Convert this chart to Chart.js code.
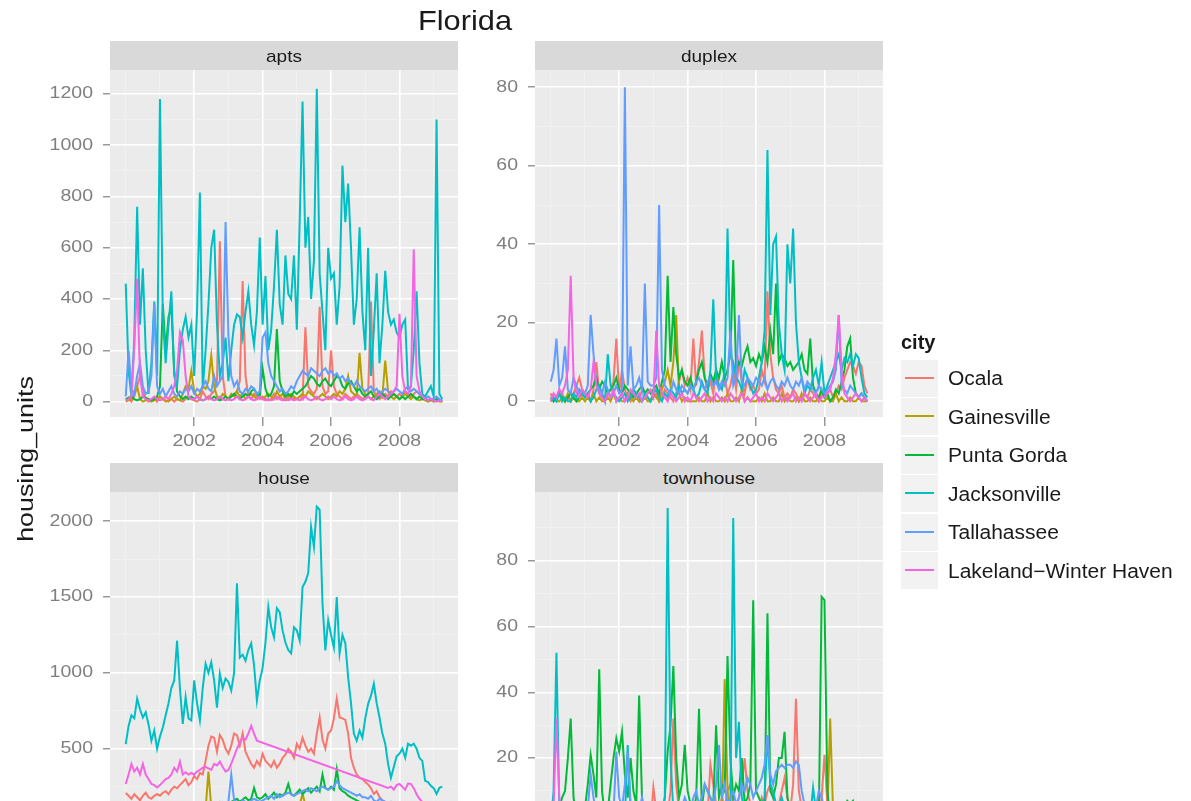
<!DOCTYPE html>
<html>
<head>
<meta charset="utf-8">
<title>Florida</title>
<script src="https://cdn.jsdelivr.net/npm/chart.js@4.4.1/dist/chart.umd.min.js"></script>
<style>
  html, body { margin: 0; padding: 0; background: #fff; overflow: hidden; }
  #fig { position: relative; width: 1191px; height: 801px; overflow: hidden;
         font-family: "Liberation Sans", Arial, sans-serif; color: #1a1a1a; filter: blur(0.6px); }
  #fig canvas { position: absolute; }
  .strip { position: absolute; width: 348px; height: 29px; background: #D9D9D9; }
  .txt { position: absolute; white-space: nowrap; line-height: 1; }
  .key { position: absolute; left: 901px; width: 37px; height: 37px; background: #F2F2F2; }
  .key i { position: absolute; left: 4px; right: 4px; top: 17px; height: 2px; }
</style>
</head>
<body>
<div id="fig"></div>
<script>
// ---- data (monthly, Jan 2000 .. Apr 2009) ----
const cities = ['Ocala', 'Gainesville', 'Punta Gorda', 'Jacksonville', 'Tallahassee', 'Lakeland\u2212Winter Haven'];
const cityColors = ['#F8766D', '#B79F00', '#00BA38', '#00BFC4', '#619CFF', '#F564E3'];
const startYear = 2000;
const monthCount = 112;
const yearTicks = [2000, 2001, 2002, 2003, 2004, 2005, 2006, 2007, 2008, 2009];
const yearLabels = [2002, 2004, 2006, 2008];

const aptsTicks = [0, 200, 400, 600, 800, 1000, 1200];
const aptsMinor = [100, 300, 500, 700, 900, 1100];
const duplexTicks = [0, 20, 40, 60, 80];
const duplexMinor = [10, 30, 50, 70];
const houseTicks = [0, 500, 1000, 1500, 2000];
const houseMinor = [250, 750, 1250, 1750];
const townhouseTicks = [0, 20, 40, 60, 80];
const townhouseMinor = [10, 30, 50, 70, 90];

// apts
const aptsOcala = [
  5,10,0,20,60,100,40,10,0,5,10,0,
  20,10,0,5,10,0,10,5,0,10,20,10,
  5,0,10,40,20,10,30,40,80,625,100,20,
  10,20,30,40,80,470,100,20,10,30,20,10,
  20,10,5,10,30,10,20,10,5,10,20,10,
  10,20,10,290,60,40,30,50,370,60,30,40,
  200,60,30,20,10,30,20,10,20,30,20,10,
  20,30,390,40,20,10,20,30,20,40,30,20,
  30,20,40,30,20,30,40,30,20,10,20,10,
  10,5,5,0];
const aptsGainesville = [
  0,5,10,30,60,10,0,5,10,0,5,10,
  20,10,5,0,10,20,10,5,30,60,50,120,
  40,20,30,60,50,80,180,60,20,10,30,20,
  10,30,20,40,20,30,10,20,30,20,10,20,
  10,20,30,20,10,40,20,30,10,20,30,20,
  10,20,30,20,40,30,20,10,20,30,20,10,
  20,30,20,40,30,50,100,40,30,20,190,50,
  30,20,10,20,30,40,20,160,40,20,10,20,
  10,20,30,20,10,20,10,5,10,5,0,5,
  0,5,0,0];
const aptsPuntaGorda = [
  10,15,20,10,5,10,20,15,10,5,10,20,
  60,380,200,330,370,120,40,20,10,20,10,20,
  10,20,10,5,10,20,10,20,10,5,10,20,
  10,20,30,20,10,20,30,20,40,50,30,20,
  130,50,20,30,60,283,80,40,20,30,20,40,
  30,40,50,60,80,100,90,70,60,80,90,70,
  60,80,100,90,60,50,70,80,60,40,50,30,
  20,30,40,20,10,20,30,20,10,20,30,20,
  10,20,10,20,30,20,10,20,10,10,5,10,
  5,10,5,0];
const aptsJacksonville = [
  460,120,20,250,760,300,520,200,30,150,390,100,
  1180,330,150,300,430,100,60,200,280,330,250,300,
  100,350,815,50,200,380,600,670,300,100,150,250,
  80,200,300,340,330,250,350,430,300,220,350,640,
  300,490,200,280,450,670,380,300,570,420,400,570,
  280,700,1170,600,720,400,550,1220,500,350,200,600,
  480,500,300,450,920,700,850,600,300,400,680,350,
  200,600,100,280,500,150,300,510,350,300,320,270,
  250,300,320,50,60,200,430,150,30,20,40,60,
  20,1100,30,10];
const aptsTallahassee = [
  20,200,50,30,100,150,60,30,40,100,380,60,
  30,50,20,40,60,30,20,40,30,50,40,60,
  30,50,40,60,80,50,40,100,60,80,100,700,
  260,100,60,80,40,30,50,40,60,50,30,40,
  250,270,150,100,80,60,40,50,30,40,60,50,
  80,100,120,110,100,130,120,110,100,120,130,110,
  120,100,110,90,100,80,90,70,60,80,60,50,
  40,50,60,40,50,30,40,50,40,30,40,50,
  40,30,50,60,40,50,40,30,20,10,20,10,
  10,20,10,5];
const aptsLakeland = [
  5,10,20,210,480,100,20,10,5,10,20,10,
  5,10,20,10,30,60,120,270,240,100,20,10,
  10,20,10,5,10,20,10,5,10,20,10,5,
  10,5,10,20,10,5,10,20,10,5,10,20,
  10,5,10,5,10,20,10,5,10,5,10,5,
  10,5,10,20,10,5,10,20,10,5,10,20,
  10,20,10,5,10,20,10,5,10,20,10,5,
  10,20,10,5,20,30,20,10,20,30,40,60,
  342,100,40,30,60,594,100,40,20,10,5,10,
  5,0,5,0];

// duplex
const duplexOcala = [
  2,0,1,3,2,0,1,0,2,4,6,3,
  2,1,0,3,10,2,1,0,2,3,5,16,
  2,8,3,1,0,2,1,0,3,2,1,0,
  1,2,0,1,3,2,1,0,2,5,8,4,
  6,3,16,4,10,18,6,3,5,2,8,4,
  3,6,2,4,8,3,10,5,2,6,3,4,
  2,3,8,5,28,12,6,3,2,4,1,2,
  1,3,2,0,1,2,1,3,2,1,0,2,
  1,2,3,1,2,4,3,6,8,10,9,7,
  10,9,4,2];
const duplexGainesville = [
  0,1,0,0,1,0,2,0,1,0,0,1,
  0,1,0,2,0,1,0,0,1,0,2,0,
  1,0,0,2,1,0,1,0,0,1,0,0,
  2,1,0,3,5,8,4,10,22,2,0,1,
  0,0,0,0,1,0,0,2,0,1,0,0,
  1,0,2,0,0,1,0,3,0,1,0,0,
  0,1,0,2,0,0,1,0,0,2,0,1,
  0,0,1,0,2,0,0,1,0,0,1,0,
  0,1,0,0,2,0,1,0,0,1,0,0,
  1,0,0,0];
const duplexPuntaGorda = [
  1,0,1,2,1,0,1,2,1,0,1,2,
  1,2,3,4,6,3,5,4,2,3,4,6,
  3,2,4,3,2,1,2,3,4,2,3,2,
  3,4,2,5,8,32,10,24,12,6,8,5,
  4,6,3,5,8,10,6,4,7,5,8,6,
  10,6,8,12,36,8,10,9,12,14,10,11,
  9,12,10,14,10,18,12,30,10,12,11,9,
  10,8,9,10,12,8,7,16,4,2,1,3,
  1,2,0,1,3,2,5,8,14,16,6,2,
  1,2,1,0];
const duplexJacksonville = [
  0,1,0,2,0,1,0,0,2,1,3,2,
  1,2,0,1,3,4,2,0,12,4,2,1,
  0,1,2,0,1,3,2,1,0,2,1,0,
  2,3,1,0,2,1,3,2,1,4,2,3,
  2,4,3,1,2,5,3,2,8,26,6,4,
  3,8,44,12,10,6,5,3,8,6,4,2,
  3,6,10,18,64,22,40,42,20,12,8,40,
  30,44,20,10,6,2,4,3,6,8,4,10,
  2,4,6,8,10,12,8,11,10,12,9,12,
  11,6,2,1];
const duplexTallahassee = [
  5,8,16,4,6,14,3,2,6,4,2,3,
  2,4,22,12,4,3,2,5,3,1,2,4,
  2,3,80,4,14,3,4,6,3,30,5,4,
  4,6,50,8,4,3,2,5,3,2,4,3,
  2,4,3,5,6,4,3,5,6,4,5,3,
  5,4,6,18,4,6,22,5,4,6,5,4,
  6,5,4,6,3,5,6,4,3,5,4,6,
  4,3,5,4,6,3,5,4,3,2,4,3,
  2,3,4,5,8,22,4,3,2,4,3,2,
  1,2,1,0];
const duplexLakeland = [
  0,2,1,3,2,4,8,32,6,2,1,3,
  2,1,3,10,4,2,1,0,2,1,3,0,
  1,2,0,1,3,2,1,2,0,1,2,3,
  1,18,4,2,1,0,2,1,0,1,2,0,
  1,0,2,1,0,1,2,0,1,0,2,1,
  0,1,0,2,1,0,1,2,0,1,0,1,
  2,0,1,0,2,1,0,1,2,0,1,0,
  1,2,0,1,0,2,1,0,1,2,0,1,
  1,2,3,6,12,22,8,2,1,0,1,2,
  1,0,1,0];

// house (Lakeland has no reports from late 2003 to mid 2007)
const houseOcala = [
  208,190,170,200,180,160,190,210,180,170,190,200,
  190,210,220,200,230,250,240,260,280,300,260,280,
  320,300,340,330,420,520,580,573,480,590,560,500,
  467,520,600,590,520,600,480,440,400,375,420,390,
  467,420,400,380,420,375,400,440,460,500,480,440,
  533,500,573,520,480,500,467,600,706,560,500,600,
  620,700,830,706,700,690,600,440,375,330,308,300,
  280,265,240,202,220,180,160,150,130,140,120,110,
  100,110,90,80,100,90,80,70,60,70,60,50,
  60,50,40,50];
const houseGainesville = [
  60,70,65,75,70,80,75,70,80,85,75,80,
  80,85,90,80,95,90,85,95,90,100,95,90,
  95,100,90,105,100,350,110,100,105,95,100,110,
  100,110,105,115,110,120,110,115,105,110,120,115,
  110,120,115,125,120,130,125,120,130,125,120,130,
  125,130,202,130,125,120,130,125,120,115,110,105,
  110,105,100,95,100,90,85,90,80,85,75,80,
  70,75,65,60,55,60,50,55,45,50,40,45,
  40,35,40,30,35,30,25,30,25,20,25,20,
  20,15,20,15];
const housePuntaGorda = [
  80,90,100,85,95,110,100,90,105,95,100,110,
  100,110,120,105,115,130,120,110,125,130,120,115,
  120,130,140,125,135,150,140,130,145,150,140,135,
  140,150,160,170,150,165,180,160,170,242,180,170,
  180,200,170,190,210,180,200,190,210,268,200,190,
  210,230,200,220,240,210,230,250,220,330,240,230,
  250,230,365,240,220,210,190,180,170,160,150,140,
  130,125,120,115,110,105,100,95,90,80,85,75,
  70,65,60,55,50,60,50,45,40,45,40,35,
  30,35,30,25];
const houseJacksonville = [
  530,650,720,700,830,760,706,740,660,553,620,500,
  580,640,720,800,900,950,1212,900,664,840,700,687,
  950,800,687,900,1060,1000,1070,950,770,995,900,962,
  940,883,1000,1590,1100,1120,1080,1150,1195,1050,817,950,
  1033,1200,1433,1300,1235,1426,1400,1280,1200,1150,1128,1300,
  1280,1213,1565,1600,1657,1962,1830,2095,2075,1460,1148,1347,
  1250,1168,1500,1128,1250,1195,970,800,600,553,620,573,
  700,796,850,928,800,706,600,533,400,308,380,450,
  467,500,440,533,520,533,500,440,420,288,280,255,
  240,202,242,250];
const houseTallahassee = [
  120,110,130,100,115,125,110,120,105,115,110,100,
  110,120,115,125,130,120,110,125,115,120,130,125,
  130,120,140,125,135,130,150,140,130,145,150,140,
  150,330,160,150,140,160,150,140,160,170,160,150,
  160,170,180,190,170,200,180,190,200,210,200,190,
  200,210,220,230,220,240,230,220,240,250,240,230,
  240,250,288,260,240,230,220,210,200,190,200,180,
  180,170,190,160,150,170,160,150,140,150,130,120,
  110,120,100,90,100,80,90,70,80,60,70,60,
  50,60,50,40];
const houseLakeland = [
  268,330,400,350,375,330,400,330,300,268,260,245,
  260,280,300,308,330,375,350,415,330,345,330,340,
  330,350,360,375,380,370,360,400,390,415,380,350,
  360,400,450,500,540,573,560,600,650,600,553,null,
  null,null,null,null,null,null,null,null,null,null,null,null,
  null,null,null,null,null,null,null,null,null,null,null,null,
  null,null,null,null,null,null,null,null,null,null,null,null,
  null,null,null,null,null,null,null,null,242,250,230,260,
  268,250,230,270,268,240,200,170,150,130,120,110,
  100,90,80,70];

// townhouse
const townhouseOcala = [
  0,1,0,2,0,1,0,0,1,0,0,1,
  0,0,1,0,2,0,0,1,0,0,1,0,
  1,0,0,1,0,2,0,1,0,0,1,0,
  11,4,2,0,1,3,10,32,12,4,2,1,
  0,2,1,3,2,5,4,3,18,12,6,4,
  8,5,10,12,6,4,8,12,20,10,6,5,
  4,3,8,6,10,12,8,4,6,10,14,8,
  4,12,38,10,5,3,2,1,3,2,1,8,
  21,6,2,1,0,1,0,0,1,0,0,0,
  0,0,0,0];
const townhouseGainesville = [
  0,0,1,0,0,0,1,0,0,0,0,1,
  0,0,0,1,0,0,0,0,1,0,0,0,
  0,1,0,0,0,0,0,1,0,0,0,0,
  0,0,1,0,0,2,0,0,1,0,0,0,
  1,0,0,2,0,1,0,0,3,0,1,0,
  0,44,10,2,0,1,0,2,0,1,0,0,
  0,1,0,0,2,0,1,0,0,1,0,0,
  0,0,1,0,0,0,1,0,0,0,0,1,
  0,2,32,4,0,1,0,0,0,0,0,0,
  0,0,0,0];
const townhousePuntaGorda = [
  2,0,3,5,8,10,20,32,8,2,0,1,
  5,12,21,15,8,47,10,2,4,12,20,26,
  22,28,15,8,20,10,6,39,8,2,0,1,
  0,2,1,3,8,22,30,48,20,8,12,24,
  10,6,4,8,35,5,12,10,8,6,30,8,
  12,10,51,20,8,12,10,20,6,8,12,68,
  10,8,6,4,64,10,8,12,20,20,28,8,
  4,6,3,2,5,1,3,2,4,2,1,69,
  68,10,2,1,0,2,1,5,7,6,7,4,
  2,1,0,0];
const townhouseJacksonville = [
  0,10,52,5,0,2,0,1,0,3,0,1,
  0,2,1,0,3,0,1,2,0,1,0,2,
  1,0,2,24,4,0,1,2,0,1,3,0,
  1,2,0,3,8,96,20,4,2,1,0,3,
  2,1,3,0,2,4,1,3,2,5,3,2,
  4,2,3,6,93,20,31,8,4,3,2,5,
  3,4,6,8,27,12,10,6,4,8,5,3,
  2,4,3,6,2,1,3,2,11,4,2,1,
  0,1,2,0,1,0,1,0,0,1,0,0,
  0,0,0,0];
const townhouseTallahassee = [
  0,2,1,3,0,2,1,0,4,2,1,3,
  2,5,15,8,3,2,1,4,2,6,3,22,
  8,5,12,22,6,3,2,4,8,2,1,3,
  2,1,4,2,3,5,6,4,2,3,5,8,
  6,4,8,10,6,8,12,10,8,6,12,24,
  8,12,6,8,10,6,8,12,10,14,12,8,
  10,12,14,18,27,15,12,16,17,18,17,18,
  18,17,19,18,10,6,4,2,3,5,10,8,
  4,2,1,3,2,1,0,1,2,0,1,0,
  0,0,0,0];
const townhouseLakeland = [
  0,5,32,8,0,1,0,0,1,0,0,0,
  0,1,0,0,2,0,0,1,0,0,0,1,
  0,0,1,0,0,0,1,0,0,0,1,0,
  0,1,0,0,0,1,0,0,0,1,0,0,
  1,0,0,0,1,0,0,0,1,0,0,0,
  0,0,1,0,0,0,1,0,0,0,1,0,
  0,1,0,0,0,1,0,0,0,1,0,0,
  1,0,0,0,1,0,0,0,1,0,0,0,
  0,0,1,0,0,0,1,0,0,0,1,0,
  0,0,0,0];

const months = Array.from({ length: monthCount }, (_, i) => startYear + i / 12);

// ---- layout ----
const fig = document.getElementById('fig');
const PW = 348, PH = 347;
const XMIN = 1999.54, XMAX = 2009.71;

function addText(txt, x, y, size, opts = {}) {
  const d = document.createElement('div');
  d.className = 'txt';
  d.textContent = txt;
  d.style.left = x + 'px';
  d.style.top = y + 'px';
  d.style.fontSize = size + 'px';
  if (opts.bold) d.style.fontWeight = 'bold';
  const sx = opts.sx || 1;
  const ax = opts.align === 'left' ? '0' : '-50%';
  d.style.transformOrigin = opts.align === 'left' ? 'left center' : 'center center';
  d.style.transform = `translate(${ax}, -50%) ${opts.rot ? 'rotate(' + opts.rot + 'deg) ' : ''}scaleX(${sx})`;
  fig.appendChild(d);
  return d;
}

addText('Florida', 465, 21, 28, { sx: 1.1 });
addText('housing_units', 26, 459, 22, { rot: -90, sx: 1.22 });

// legend
addText('city', 901, 342, 20, { bold: true, align: 'left' });
const keyCenters = [378, 416.5, 455, 493.5, 532, 570.5];
cities.forEach((c, i) => {
  const k = document.createElement('div');
  k.className = 'key';
  k.style.top = (keyCenters[i] - 18.5) + 'px';
  const ln = document.createElement('i');
  ln.style.background = cityColors[i];
  k.appendChild(ln);
  fig.appendChild(k);
  addText(c, 948, keyCenters[i], 20, { align: 'left', sx: 1.05 });
});

const tickText = {
  id: 'tickText',
  afterDraw(chart, args, opts) {
    const { ctx, chartArea, scales } = chart;
    ctx.save();
    ctx.fillStyle = '#7F7F7F';
    ctx.font = '16px "Liberation Sans", Arial, sans-serif';
    ctx.textBaseline = 'middle';
    ctx.textAlign = 'right';
    opts.yLabels.forEach(v => {
      const py = scales.y.getPixelForValue(v);
      ctx.save();
      ctx.translate(chartArea.left - 17, py);
      ctx.scale(1.22, 1);
      ctx.fillText(String(v), 0, 0);
      ctx.restore();
    });
    ctx.textAlign = 'center';
    yearLabels.forEach(v => {
      const px = scales.x.getPixelForValue(v);
      ctx.save();
      ctx.translate(px, chartArea.bottom + 25);
      ctx.scale(1.22, 1);
      ctx.fillText(String(v), 0, 0);
      ctx.restore();
    });
    ctx.restore();
  }
};

const panelBg = {
  id: 'panelBg',
  beforeDraw(chart) {
    const { ctx, chartArea: a } = chart;
    ctx.save();
    ctx.fillStyle = '#EBEBEB';
    ctx.fillRect(a.left, a.top, a.right - a.left, a.bottom - a.top);
    ctx.restore();
  }
};

const panels = [
  { name: 'apts', left: 110, top: 70,
    series: [aptsOcala, aptsGainesville, aptsPuntaGorda, aptsJacksonville, aptsTallahassee, aptsLakeland],
    yMin: -60, yMax: 1293, major: aptsTicks, minor: aptsMinor },
  { name: 'duplex', left: 535, top: 70,
    series: [duplexOcala, duplexGainesville, duplexPuntaGorda, duplexJacksonville, duplexTallahassee, duplexLakeland],
    yMin: -4, yMax: 84.4, major: duplexTicks, minor: duplexMinor },
  { name: 'house', left: 110, top: 492,
    series: [houseOcala, houseGainesville, housePuntaGorda, houseJacksonville, houseTallahassee, houseLakeland],
    yMin: -95, yMax: 2192, major: houseTicks, minor: houseMinor },
  { name: 'townhouse', left: 535, top: 492,
    series: [townhouseOcala, townhouseGainesville, townhousePuntaGorda, townhouseJacksonville, townhouseTallahassee, townhouseLakeland],
    yMin: -4.6, yMax: 100.9, major: townhouseTicks, minor: townhouseMinor }
];

panels.forEach(p => {
  // facet strip
  const s = document.createElement('div');
  s.className = 'strip';
  s.style.left = p.left + 'px';
  s.style.top = (p.top - 29) + 'px';
  fig.appendChild(s);
  addText(p.name, p.left + PW / 2, p.top - 14, 17, { sx: 1.12 });

  const cv = document.createElement('canvas');
  const padL = 80, padT = 12, padR = 12, axisH = 45;
  cv.width = padL + PW + padR;
  cv.height = padT + PH + axisH;
  cv.style.left = (p.left - padL) + 'px';
  cv.style.top = (p.top - padT) + 'px';
  fig.appendChild(cv);

  const yAll = p.major.concat(p.minor).filter(v => v >= p.yMin && v <= p.yMax).sort((a, b) => a - b);
  const isMajorY = c => c.tick && p.major.includes(c.tick.value);
  const isMajorX = c => c.tick && yearLabels.includes(c.tick.value);

  new Chart(cv, {
    type: 'line',
    data: {
      datasets: p.series.map((vals, i) => ({
        label: cities[i],
        data: vals.map((v, j) => ({ x: months[j], y: v })),
        borderColor: cityColors[i],
        borderWidth: 2,
        pointRadius: 0,
        fill: false,
        tension: 0,
        spanGaps: true,
        order: cities.length - i
      }))
    },
    options: {
      responsive: false,
      animation: false,
      devicePixelRatio: 1,
      events: [],
      layout: { padding: { top: padT, right: padR, left: 0, bottom: 0 } },
      plugins: {
        legend: { display: false },
        tooltip: { enabled: false },
        tickText: { yLabels: p.major.filter(v => v >= p.yMin) }
      },
      scales: {
        x: {
          type: 'linear', min: XMIN, max: XMAX,
          afterBuildTicks: sc => { sc.ticks = yearTicks.map(v => ({ value: v })); },
          afterFit: sc => { sc.height = axisH; },
          ticks: { display: false },
          border: { display: false },
          grid: {
            color: c => isMajorX(c) ? '#FFFFFF' : '#F3F3F3',
            lineWidth: c => isMajorX(c) ? 1.6 : 0.8,
            tickColor: c => isMajorX(c) ? '#7F7F7F' : 'rgba(0,0,0,0)',
            tickLength: 9,
            tickWidth: 1.2
          }
        },
        y: {
          type: 'linear', min: p.yMin, max: p.yMax,
          afterBuildTicks: sc => { sc.ticks = yAll.map(v => ({ value: v })); },
          afterFit: sc => { sc.width = padL; },
          ticks: { display: false },
          border: { display: false },
          grid: {
            color: c => isMajorY(c) ? '#FFFFFF' : '#F3F3F3',
            lineWidth: c => isMajorY(c) ? 1.6 : 0.8,
            tickColor: c => isMajorY(c) ? '#7F7F7F' : 'rgba(0,0,0,0)',
            tickLength: 7,
            tickWidth: 1.2
          }
        }
      }
    },
    plugins: [panelBg, tickText]
  });
});
</script>
</body>
</html>
